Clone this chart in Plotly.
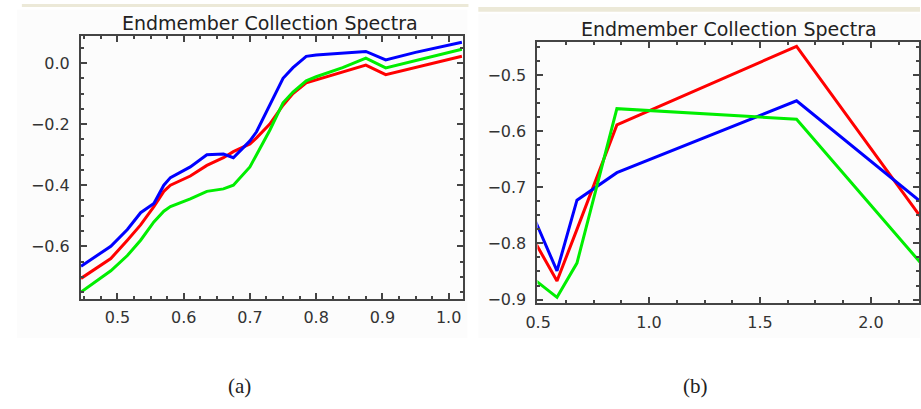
import plotly.graph_objects as go

# ---- Panel (a) data ----
wl_a = [0.445, 0.47, 0.49, 0.515, 0.535, 0.555, 0.57, 0.58, 0.61, 0.635, 0.66, 0.675,
        0.70, 0.71, 0.73, 0.75, 0.765, 0.785, 0.80, 0.84, 0.875, 0.905, 0.95, 1.02]
blue_a = [-0.665, -0.63, -0.60, -0.545, -0.49, -0.46, -0.40, -0.375, -0.34, -0.30, -0.298, -0.31,
          -0.255, -0.225, -0.14, -0.05, -0.015, 0.022, 0.026, 0.032, 0.038, 0.010, 0.035, 0.068]
red_a = [-0.705, -0.67, -0.64, -0.58, -0.53, -0.47, -0.42, -0.40, -0.37, -0.335, -0.31, -0.29,
         -0.265, -0.245, -0.20, -0.138, -0.10, -0.065, -0.055, -0.03, -0.007, -0.038, -0.015, 0.022]
green_a = [-0.75, -0.71, -0.68, -0.63, -0.58, -0.52, -0.485, -0.47, -0.445, -0.42, -0.412, -0.40,
           -0.34, -0.30, -0.22, -0.13, -0.095, -0.058, -0.045, -0.015, 0.016, -0.016, 0.008, 0.045]

# ---- Panel (b) data ----
wl_b = [0.485, 0.585, 0.675, 0.855, 1.665, 2.225]
red_b = [-0.797, -0.867, -0.775, -0.589, -0.449, -0.753]
blue_b = [-0.758, -0.849, -0.723, -0.674, -0.546, -0.726]
green_b = [-0.865, -0.896, -0.835, -0.560, -0.579, -0.835]

title_text = "Endmember Collection Spectra"
captions = ["(a)", "(b)"]

RED, GREEN, BLUE = "#ff0000", "#00ee00", "#0000ff"
LW = 3

fig = go.Figure()
for y, c in [(red_a, RED), (green_a, GREEN), (blue_a, BLUE)]:
    fig.add_trace(go.Scatter(x=wl_a, y=y, mode="lines", line=dict(color=c, width=LW),
                             xaxis="x", yaxis="y", showlegend=False))
for y, c in [(red_b, RED), (blue_b, BLUE), (green_b, GREEN)]:
    fig.add_trace(go.Scatter(x=wl_b, y=y, mode="lines", line=dict(color=c, width=LW),
                             xaxis="x2", yaxis="y2", showlegend=False))

W, H = 921, 409
def dx(a, b):
    return [a / W, b / W]
def dy(top, bot):
    return [1 - bot / H, 1 - top / H]

axis_common = dict(showline=True, linecolor="#444444", linewidth=2, mirror="ticks",
                   ticks="inside", ticklen=6, tickwidth=1.5, tickcolor="#444444",
                   showgrid=False, zeroline=False,
                   tickfont=dict(family="DejaVu Sans", size=16, color="#333333"),
                   tickformat=".1f")

fig.update_layout(
    width=W, height=H, margin=dict(l=0, r=0, t=0, b=0),
    paper_bgcolor="white", plot_bgcolor="white",
    xaxis=dict(domain=dx(70, 457), range=[0.445, 1.021], dtick=0.1, tick0=0,
               anchor="y", minor=dict(dtick=0.025, ticks="inside", ticklen=3, tickcolor="#444444"),
               ticklabelstandoff=3, **axis_common),
    yaxis=dict(domain=dy(37, 303), range=[-0.771, 0.087], dtick=0.2, tick0=0,
               anchor="x", minor=dict(dtick=0.05, ticks="inside", ticklen=3, tickcolor="#444444"),
               ticklabelstandoff=6, **axis_common),
    xaxis2=dict(domain=dx(533, 920), range=[0.497, 2.217], dtick=0.5, tick0=0,
                anchor="y2", minor=dict(dtick=0.125, ticks="inside", ticklen=3, tickcolor="#444444"),
                ticklabelstandoff=3, **axis_common),
    yaxis2=dict(domain=dy(43, 308), range=[-0.907, -0.442], dtick=0.1, tick0=0,
                anchor="x2", minor=dict(dtick=0.025, ticks="inside", ticklen=3, tickcolor="#444444"),
                ticklabelstandoff=6, **axis_common),
)

shapes = [
    dict(type="rect", xref="paper", yref="paper", x0=10 / W, x1=463 / W,
         y0=1 - 7 / H, y1=1 - 4 / H, fillcolor="#ECE9D8", line=dict(width=0), layer="below"),
    dict(type="rect", xref="paper", yref="paper", x0=473 / W, x1=921 / W,
         y0=1 - 12 / H, y1=1 - 7 / H, fillcolor="#ECE9D8", line=dict(width=0), layer="below"),
    dict(type="rect", xref="paper", yref="paper", x0=5 / W, x1=462 / W,
         y0=1 - 343 / H, y1=1 - 10 / H, fillcolor="#FCFCFC", line=dict(width=0), layer="below"),
    dict(type="rect", xref="paper", yref="paper", x0=473 / W, x1=921 / W,
         y0=1 - 343 / H, y1=1 - 14 / H, fillcolor="#FCFCFC", line=dict(width=0), layer="below"),
]
fig.update_layout(shapes=shapes)

annotations = [
    dict(text=title_text, x=262 / W, y=1 - 23 / H, xref="paper", yref="paper",
         showarrow=False, xanchor="center", yanchor="middle",
         font=dict(family="DejaVu Sans", size=19, color="#222222")),
    dict(text=title_text, x=727 / W, y=1 - 29 / H, xref="paper", yref="paper",
         showarrow=False, xanchor="center", yanchor="middle",
         font=dict(family="DejaVu Sans", size=19, color="#222222")),
    dict(text=captions[0], x=231 / W, y=1 - 392 / H, xref="paper", yref="paper",
         showarrow=False, xanchor="center", yanchor="middle",
         font=dict(family="Liberation Serif", size=21, color="#222222")),
    dict(text=captions[1], x=693 / W, y=1 - 392 / H, xref="paper", yref="paper",
         showarrow=False, xanchor="center", yanchor="middle",
         font=dict(family="Liberation Serif", size=21, color="#222222")),
]
fig.update_layout(annotations=annotations)

fig.write_html("out.html", config={"displayModeBar": False},
               post_script="document.body.style.margin='0';document.body.style.padding='0';document.body.style.overflow='hidden';")
